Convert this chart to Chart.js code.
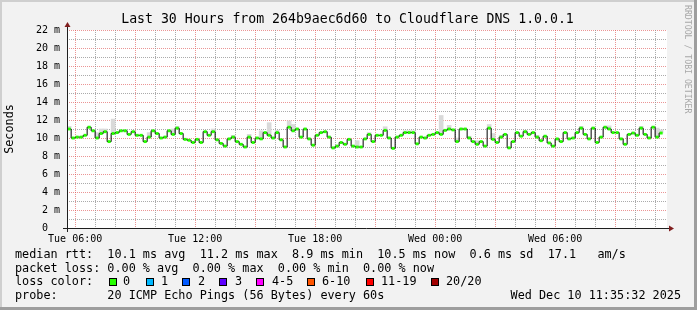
<!DOCTYPE html>
<html>
<head>
<meta charset="utf-8">
<script src="https://cdn.jsdelivr.net/npm/chart.js@4.4.1/dist/chart.umd.min.js"></script>
<style>
  html, body { margin: 0; padding: 0; background: #f2f2f2; }
  #wrap { width: 697px; height: 310px; }
</style>
</head>
<body>
<div id="wrap"><canvas id="rtt-chart" width="697" height="310"></canvas></div>
<script>
// median rtt per 12 minute step (ms)
var medianMs = [
  11.0, 10.0, 10.1, 10.1, 10.3, 11.2, 10.8, 10.0, 10.5, 10.7,
  9.6, 10.5, 10.6, 10.8, 10.8, 10.4, 10.7, 10.3, 10.3, 9.6,
  10.1, 10.8, 10.5, 10.0, 10.1, 10.8, 10.4, 11.1, 10.5, 9.85,
  9.75, 9.5, 9.85, 9.5, 10.7, 10.3, 10.7, 9.8, 9.4, 9.1,
  9.9, 10.1, 9.6, 9.3, 9.0, 10.1, 9.5, 10.0, 9.9, 10.6,
  10.3, 10.0, 10.6, 9.8, 9.0, 11.2, 10.8, 11.0, 10.1, 11.0,
  9.9, 9.2, 10.3, 10.6, 10.7, 10.1, 8.9, 9.1, 9.5, 9.3,
  9.85, 9.1, 9.0, 9.0, 9.9, 10.4, 9.6, 10.3, 10.3, 10.85,
  10.0, 8.85, 10.1, 10.3, 10.6, 10.6, 10.6, 9.35, 10.1, 10.0,
  10.3, 10.4, 10.6, 10.4, 10.85, 11.0, 10.9, 9.6, 11.0, 11.0,
  10.0, 9.6, 9.3, 9.6, 9.1, 11.1, 9.85, 9.5, 10.1, 10.4,
  8.9, 9.6, 10.6, 10.2, 10.7, 10.4, 10.6, 10.1, 9.7, 10.2,
  9.45, 9.1, 9.9, 9.6, 10.6, 9.9, 10.0, 10.6, 11.1, 10.4,
  9.9, 11.1, 9.5, 10.1, 11.2, 11.0, 10.6, 10.6, 9.9, 9.3,
  10.4, 10.55, 10.3, 11.1, 10.4, 10.0, 11.2, 10.1, 10.55
];
// top of the grey "smoke" for each step (ms)
var smokeTopMs = [
  11.3, 10.0, 10.1, 10.1, 10.3, 11.2, 10.8, 10.6, 11.0, 11.0,
  9.6, 12.1, 10.6, 10.8, 10.8, 10.4, 10.7, 10.3, 10.3, 9.6,
  10.6, 10.8, 10.5, 10.0, 10.1, 10.8, 11.0, 11.3, 10.5, 9.85,
  9.75, 9.5, 9.85, 9.5, 10.7, 10.3, 11.0, 9.8, 9.4, 9.1,
  9.9, 10.3, 9.6, 9.3, 9.0, 10.4, 9.5, 10.0, 10.8, 10.6,
  11.7, 10.0, 10.85, 9.8, 9.0, 11.9, 11.5, 11.0, 10.1, 11.0,
  9.9, 9.2, 10.3, 10.6, 10.7, 10.1, 8.9, 9.1, 9.5, 9.3,
  9.85, 9.1, 9.7, 9.0, 9.9, 10.6, 9.6, 10.3, 10.3, 11.25,
  10.0, 8.85, 10.1, 10.3, 10.8, 10.8, 10.8, 9.35, 10.1, 10.0,
  10.3, 10.4, 10.6, 12.5, 10.85, 11.4, 10.9, 10.0, 11.0, 11.0,
  10.2, 9.6, 9.7, 9.6, 9.1, 11.5, 10.5, 9.5, 10.3, 10.4,
  8.9, 9.6, 10.6, 10.2, 10.85, 10.4, 10.6, 10.3, 9.7, 10.2,
  9.45, 9.1, 9.9, 9.6, 10.6, 9.9, 10.0, 10.6, 11.3, 10.4,
  9.9, 11.1, 9.5, 10.1, 11.2, 11.35, 10.6, 10.6, 9.9, 9.3,
  10.4, 10.55, 10.3, 11.3, 10.4, 10.0, 11.2, 11.1, 10.9
];

// time axis, in hours from Tue 00:00
var rangeStart = 5.5922;   // Tue 05:35:32
var rangeEnd = 35.5922;    // Wed 11:35:32
var firstStep = 5.6;       // Tue 05:36
var stepHours = 0.2;       // 12 min
var dayNames = ['Tue', 'Wed'];

var lossLabels = ['0', '1', '2', '3', '4-5', '6-10', '11-19', '20/20'];
var lossColors = ['#26ff00', '#00b8ff', '#0059ff', '#5e00ff', '#ff00ff', '#ff5500', '#ff0000', '#a10000'];

var titleText = 'Last 30 Hours from 264b9aec6d60 to Cloudflare DNS 1.0.0.1';
var legendLines = [
  'median rtt:  10.1 ms avg  11.2 ms max  8.9 ms min  10.5 ms now  0.6 ms sd  17.1   am/s',
  'packet loss: 0.00 % avg  0.00 % max  0.00 % min  0.00 % now',
  'loss color:',
  'probe:       20 ICMP Echo Pings (56 Bytes) every 60s'
];
var stampText = 'Wed Dec 10 11:35:32 2025';

// rrdtool default colours
var MONO = '"DejaVu Sans Mono", "Liberation Mono", monospace';
var majorGrid = 'rgba(222, 79, 79, 0.6)';
var minorGrid = 'rgba(143, 143, 143, 0.75)';
var backColor = '#f2f2f2';
var axisColor = '#1f1f1f';
var arrowColor = '#801f1f';

var centers = medianMs.map(function (v, i) { return firstStep + stepHours * i + stepHours / 2; });
var smokeData = medianMs.map(function (v, i) { return { x: centers[i], y: [v, smokeTopMs[i]] }; });
var lineData = medianMs.map(function (v, i) { return { x: centers[i], y: v }; });
var greenData = medianMs.map(function (v, i) { return { x: centers[i], y: [v - 0.16, v + 0.16] }; });

var rrdFrame = {
  id: 'rrdFrame',
  beforeDraw: function (chart) {
    var ctx = chart.ctx, a = chart.chartArea;
    ctx.save();
    ctx.fillStyle = backColor;
    ctx.fillRect(0, 0, chart.width, chart.height);
    ctx.fillStyle = '#ffffff';
    ctx.fillRect(a.left, a.top, a.right - a.left, a.bottom - a.top);
    ctx.restore();
  },
  beforeDatasetsDraw: function (chart) {
    // dotted grid, placed by the scales
    var ctx = chart.ctx, a = chart.chartArea;
    var xs = chart.scales.x, ys = chart.scales.y;
    ctx.save();
    ctx.lineWidth = 1;
    ctx.setLineDash([1, 1]);
    ys.ticks.forEach(function (t) {
      var v = Math.round(t.value);
      if (v === 0) return;
      var y = Math.round(ys.getPixelForValue(v)) + 0.5;
      ctx.strokeStyle = (v % 2 === 0) ? majorGrid : minorGrid;
      ctx.beginPath();
      ctx.moveTo(a.left, y);
      ctx.lineTo(a.right, y);
      ctx.stroke();
    });
    xs.ticks.forEach(function (t) {
      var h = Math.round(t.value);
      var x = Math.round(xs.getPixelForValue(h)) + 0.5;
      ctx.strokeStyle = (h % 3 === 0) ? majorGrid : minorGrid;
      ctx.beginPath();
      ctx.moveTo(x, a.top);
      ctx.lineTo(x, a.bottom);
      ctx.stroke();
    });
    ctx.restore();
  },
  afterDraw: function (chart) {
    var ctx = chart.ctx, a = chart.chartArea;
    var W = chart.width, H = chart.height;
    ctx.save();
    // axes
    ctx.strokeStyle = axisColor;
    ctx.lineWidth = 1;
    ctx.beginPath();
    ctx.moveTo(a.left - 4, a.bottom + 0.5);
    ctx.lineTo(a.right + 3, a.bottom + 0.5);
    ctx.moveTo(a.left + 0.5, a.bottom + 4);
    ctx.lineTo(a.left + 0.5, a.top - 4);
    ctx.stroke();
    ctx.fillStyle = arrowColor;
    ctx.beginPath();
    ctx.moveTo(a.right + 2, a.bottom - 2.5);
    ctx.lineTo(a.right + 7, a.bottom + 0.5);
    ctx.lineTo(a.right + 2, a.bottom + 3.5);
    ctx.fill();
    ctx.beginPath();
    ctx.moveTo(a.left - 2.5, a.top - 3);
    ctx.lineTo(a.left + 0.5, a.top - 8);
    ctx.lineTo(a.left + 3.5, a.top - 3);
    ctx.fill();

    // title
    ctx.fillStyle = '#000';
    ctx.textBaseline = 'middle';
    ctx.textAlign = 'center';
    ctx.font = '13.2px ' + MONO;
    ctx.fillText(titleText, 347.5, 20);

    // y axis title
    ctx.font = '11.8px ' + MONO;
    ctx.save();
    ctx.translate(10, (a.top + a.bottom) / 2);
    ctx.rotate(-Math.PI / 2);
    ctx.fillText('Seconds', 0, 0);
    ctx.restore();

    // watermark
    ctx.save();
    ctx.fillStyle = '#a8a8a8';
    ctx.font = '8.2px ' + MONO;
    ctx.translate(687, 5);
    ctx.rotate(Math.PI / 2);
    ctx.textAlign = 'left';
    ctx.fillText('RRDTOOL / TOBI OETIKER', 0, 0);
    ctx.restore();

    // legend text
    ctx.textAlign = 'left';
    ctx.font = '11.8px ' + MONO;
    var rows = [254.5, 268.5, 282.3, 296];
    legendLines.forEach(function (t, i) { ctx.fillText(t, 15, rows[i]); });
    ctx.textAlign = 'right';
    ctx.fillText(stampText, 681, rows[3]);
    ctx.textAlign = 'left';
    var boxX = [109, 146, 182, 219, 256, 307, 366, 431];
    var labX = [123, 161, 198, 235, 272, 322, 381, 446];
    lossLabels.forEach(function (lab, i) {
      ctx.fillStyle = lossColors[i];
      ctx.fillRect(boxX[i], 278, 8, 8);
      ctx.strokeStyle = '#000';
      ctx.strokeRect(boxX[i] + 0.5, 278.5, 7, 7);
      ctx.fillStyle = '#000';
      ctx.fillText(lab, labX[i], rows[2]);
    });

    // frame shading
    ctx.fillStyle = '#cfcfcf';
    ctx.fillRect(0, 0, W, 2);
    ctx.fillRect(0, 0, 2, H);
    ctx.fillStyle = '#9e9e9e';
    ctx.fillRect(W - 3, 0, 3, H);
    ctx.fillRect(0, H - 3, W, 3);
    ctx.restore();
  }
};

var ctx1 = document.getElementById('rtt-chart').getContext('2d');

var rttChart = new Chart(ctx1, {
  type: 'bar',
  data: {
    datasets: [{
      // smoke
      type: 'bar',
      data: smokeData,
      backgroundColor: '#d9d9d9',
      borderWidth: 0,
      grouped: false,
      barPercentage: 1,
      categoryPercentage: 1,
      order: 3
    }, {
      // median step line
      type: 'line',
      data: lineData,
      stepped: 'middle',
      borderColor: '#000',
      borderWidth: 1,
      pointRadius: 0,
      fill: false,
      order: 2
    }, {
      // median colored by loss (all 0 here)
      type: 'bar',
      data: greenData,
      backgroundColor: lossColors[0],
      borderWidth: 0,
      grouped: false,
      barPercentage: 0.75,
      categoryPercentage: 1,
      order: 1
    }]
  },
  options: {
    responsive: false,
    devicePixelRatio: 1,
    animation: false,
    layout: { padding: { left: 0, right: 30, top: 30, bottom: 0 } },
    plugins: {
      legend: { display: false },
      title: { display: false },
      tooltip: { enabled: false }
    },
    scales: {
      x: {
        type: 'linear',
        min: rangeStart,
        max: rangeEnd,
        offset: false,
        afterFit: function (s) { s.height = 82; },
        afterBuildTicks: function (s) {
          var t = [];
          for (var h = Math.ceil(rangeStart); h <= rangeEnd; h++) t.push({ value: h });
          s.ticks = t;
        },
        ticks: {
          autoSkip: false,
          maxRotation: 0,
          padding: 5,
          color: '#000',
          font: { family: MONO, size: 10 },
          callback: function (v) {
            if (v % 6 !== 0) return '';
            var hh = v % 24;
            return dayNames[Math.floor(v / 24)] + ' ' + (hh < 10 ? '0' : '') + hh + ':00';
          }
        },
        grid: { offset: false, drawTicks: false, drawOnChartArea: false },
        border: { display: false }
      },
      y: {
        min: 0,
        max: 22,
        afterFit: function (s) { s.width = 67; },
        ticks: {
          stepSize: 1,
          autoSkip: false,
          padding: 7,
          color: '#000',
          font: { family: MONO, size: 10 },
          callback: function (v) {
            if (v % 2 !== 0) return '';
            return v === 0 ? '0  ' : v + ' m';
          }
        },
        grid: { drawTicks: false, drawOnChartArea: false },
        border: { display: false }
      }
    }
  },
  plugins: [rrdFrame]
});
</script>
</body>
</html>
